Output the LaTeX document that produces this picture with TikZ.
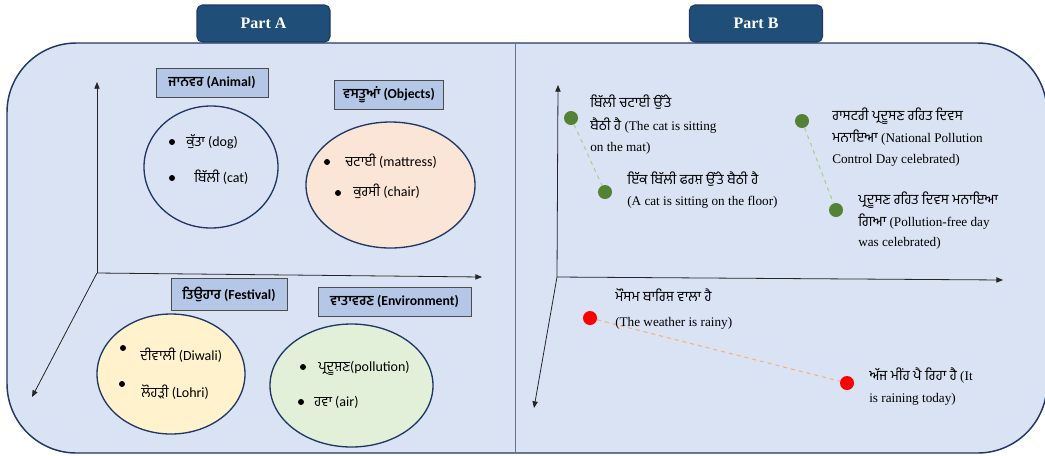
\documentclass[tikz,border=0pt]{standalone}
\usepackage{fontspec}
\setmainfont{Liberation Serif}
\newfontfamily\gurfont[Script=Gurmukhi]{Hind Jalandhar}
\newfontfamily\gurbig[Script=Gurmukhi,Scale=1.07]{Hind Jalandhar}
\newfontfamily\califont{Carlito}
\usetikzlibrary{arrows.meta,shapes.geometric}
\definecolor{panelfill}{HTML}{DAE3F3}
\definecolor{navy}{HTML}{1F3864}
\definecolor{tabblue}{HTML}{1F4E79}
\definecolor{labelfill}{HTML}{B4C7E7}
\definecolor{peach}{HTML}{FBE5D6}
\definecolor{cream}{HTML}{FFF2CC}
\definecolor{mint}{HTML}{E2F0D9}
\definecolor{leaf}{HTML}{548235}
\definecolor{leaflight}{HTML}{A9D18E}
\definecolor{coral}{HTML}{F4B183}
\definecolor{axisgray}{HTML}{262626}
\newcommand\gu[1]{{\gurfont #1}}
\newcommand\gb[1]{{\gurbig #1}}
\begin{document}
\begin{tikzpicture}[x=0.75pt,y=-0.75pt,
  panel/.style={draw=navy, fill=panelfill, line width=1.1pt},
  tab/.style={draw=navy, fill=tabblue, rounded corners=4pt, line width=0.8pt,
    text=white, font=\bfseries\fontsize{12}{14}\selectfont,
    minimum width=99.75pt, minimum height=27.75pt, inner sep=0pt},
  catlabel/.style={draw=black!70, fill=labelfill, line width=0.6pt,
    font=\califont\bfseries\fontsize{10.3}{12}\selectfont, inner sep=0pt},
  group/.style={ellipse, draw=navy, line width=1pt, inner sep=0pt},
  bullet/.style={circle, fill=black, minimum size=4.5pt, inner sep=0pt},
  itemA/.style={anchor=base west, inner sep=0pt, font=\califont\fontsize{10.5}{12}\selectfont},
  itemB/.style={anchor=base west, inner sep=0pt, font=\fontsize{9.9}{11}\selectfont},
  axis/.style={draw=axisgray, line width=0.6pt, -{Triangle[length=5pt,width=4pt]}},
  gpoint/.style={circle, fill=leaf, minimum size=10.5pt, inner sep=0pt},
  rpoint/.style={circle, fill=red, minimum size=10.5pt, inner sep=0pt},
  glink/.style={draw=leaflight, dashed, line width=0.8pt},
  rlink/.style={draw=coral, dashed, line width=0.8pt}
]
\useasboundingbox (0,0) rectangle (1045,455);

% background panel and divider
\draw[panel, rounded corners=52pt] (7,43) rectangle (1047,453);
\coordinate (divtop) at (515,43);
\coordinate (divbot) at (515,453);
\draw[navy!70, line width=0.6pt] (divtop) -- (divbot);

% tabs
\node[tab] (tabA) at (263.5,23.5) {Part A};
\node[tab] (tabB) at (756,23.5) {Part B};

% ---------- Part A ----------
\coordinate (oA) at (97,273);
\coordinate (upA) at (97,82);
\coordinate (rightA) at (482,277);
\coordinate (downA) at (32,397);
\draw[axis] (oA) -- (upA);
\draw[axis] (oA) -- (rightA);
\draw[axis] (oA) -- (downA);

\node[catlabel, minimum width=84pt, minimum height=21.75pt] (animal) at (212,82.5) {\gu{ਜਾਨਵਰ} (Animal)};
\node[catlabel, minimum width=82pt, minimum height=21.75pt] (objects) at (389,94.5) {\gu{ਵਸਤੂਆਂ} (Objects)};
\node[catlabel, minimum width=87pt, minimum height=24pt] (festival) at (229,294) {\gu{ਤਿਉਹਾਰ} (Festival)};
\node[catlabel, minimum width=114.75pt, minimum height=21.75pt] (environment) at (394.5,301.5) {\gu{ਵਾਤਾਵਰਣ} (Environment)};

\node[group, minimum width=100.5pt, minimum height=91.5pt] (animalset) at (211,167) {};
\node[group, fill=peach, minimum width=126.75pt, minimum height=94.5pt] (objectset) at (390.5,185) {};
\node[group, fill=cream, minimum width=111pt, minimum height=90pt] (festivalset) at (171,374) {};
\node[group, fill=mint, minimum width=122.25pt, minimum height=92.25pt] (envset) at (351.5,385.5) {};

\node[bullet] (b1) at (172,142) {};
\node[itemA] (t1) at (186,146.5) {\gu{ਕੁੱਤਾ} (dog)};
\node[bullet] (b2) at (172,178) {};
\node[itemA] (t2) at (194,182.5) {\gu{ਬਿੱਲੀ} (cat)};
\node[bullet] (b3) at (327,162) {};
\node[itemA] (t3) at (345,166.5) {\gu{ਚਟਾਈ} (mattress)};
\node[bullet] (b4) at (338,193) {};
\node[itemA] (t4) at (353,196.5) {\gu{ਕੁਰਸੀ} (chair)};
\node[bullet] (b5) at (123,348) {};
\node[itemA] (t5) at (140,360) {\gu{ਦੀਵਾਲੀ} (Diwali)};
\node[bullet] (b6) at (122,384) {};
\node[itemA] (t6) at (141,397.5) {\gu{ਲੋਹੜੀ} (Lohri)};
\node[bullet] (b7) at (303,367) {};
\node[itemA] (t7) at (318,371.5) {\gu{ਪ੍ਰਦੂਸ਼ਣ}(pollution)};
\node[bullet] (b8) at (301,402) {};
\node[itemA] (t8) at (314,406.5) {\gu{ਹਵਾ} (air)};

% ---------- Part B ----------
\coordinate (oB) at (557,277);
\coordinate (upB) at (558,85);
\coordinate (rightB) at (1003,280);
\coordinate (downB) at (534,408);
\draw[axis] (oB) -- (upB);
\draw[axis] (oB) -- (rightB);
\draw[axis] (oB) -- (downB);

\node[gpoint] (g1) at (571,118) {};
\node[gpoint] (g2) at (605,192) {};
\node[gpoint] (g3) at (802,121) {};
\node[gpoint] (g4) at (836,210) {};
\node[rpoint] (r1) at (590,318) {};
\node[rpoint] (r2) at (847,383) {};
\draw[glink] (g1) -- (g2);
\draw[glink] (g3) -- (g4);
\draw[rlink] (r1) -- (r2);

\node[itemB] (s1a) at (590,107) {\gb{ਬਿੱਲੀ ਚਟਾਈ ਉੱਤੇ}};
\node[itemB] (s1b) at (590,130) {\gb{ਬੈਠੀ ਹੈ} (The cat is sitting};
\node[itemB] (s1c) at (590,151) {on the mat)};
\node[itemB] (s2a) at (627,184) {\gb{ਇੱਕ ਬਿੱਲੀ ਫਰਸ਼ ਉੱਤੇ ਬੈਠੀ ਹੈ}};
\node[itemB] (s2b) at (627,205) {(A cat is sitting on the floor)};
\node[itemB] (s3a) at (832,120) {\gb{ਰਾਸਟਰੀ ਪ੍ਰਦੂਸਣ ਰਹਿਤ ਦਿਵਸ}};
\node[itemB] (s3b) at (832,142) {\gb{ਮਨਾਇਆ} (National Pollution};
\node[itemB] (s3c) at (832,163) {Control Day celebrated)};
\node[itemB] (s4a) at (858,204) {\gb{ਪ੍ਰਦੂਸਣ ਰਹਿਤ ਦਿਵਸ ਮਨਾਇਆ}};
\node[itemB] (s4b) at (858,226) {\gb{ਗਿਆ} (Pollution-free day};
\node[itemB] (s4c) at (858,246) {was celebrated)};
\node[itemB] (s5a) at (615,301) {\gb{ਮੌਸਮ ਬਾਰਿਸ਼ ਵਾਲਾ ਹੈ}};
\node[itemB] (s5b) at (615,326) {(The weather is rainy)};
\node[itemB] (s6a) at (869,380) {\gb{ਅੱਜ ਮੀਂਹ ਪੈ ਰਿਹਾ ਹੈ} (It};
\node[itemB] (s6b) at (869,402) {is raining today)};
\end{tikzpicture}
\end{document}
